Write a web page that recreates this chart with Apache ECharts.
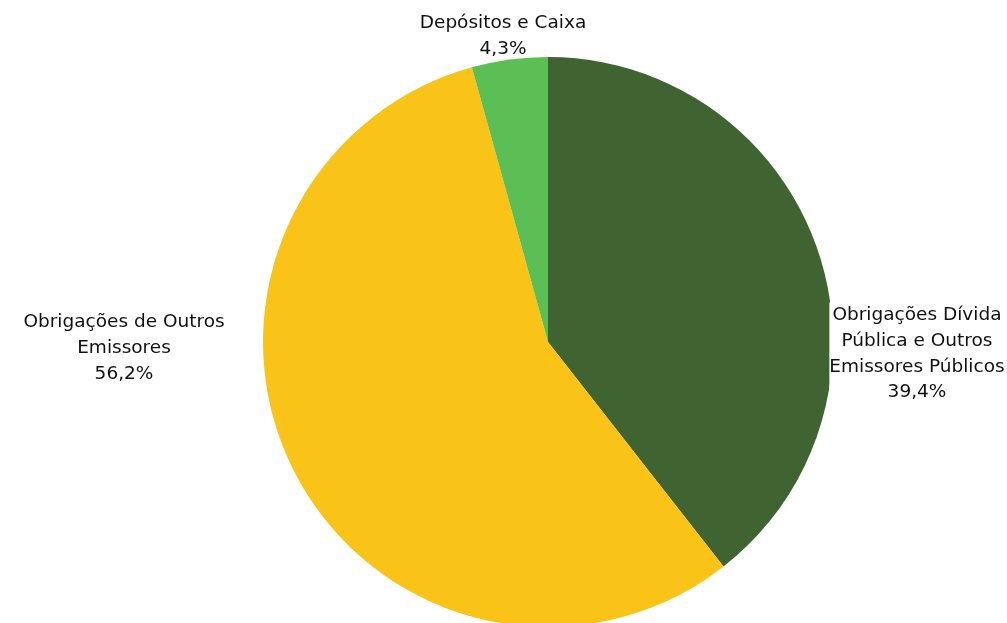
<!DOCTYPE html>
<html>
<head>
<meta charset="utf-8">
<script src="https://cdn.jsdelivr.net/npm/echarts@6/dist/echarts.min.js"></script>
<style>
  html, body { margin: 0; padding: 0; background: #ffffff; }
  #chart { width: 1007px; height: 623px; }
</style>
</head>
<body>
<div id="chart"></div>
<script>
// Portfolio composition, listed clockwise from twelve o'clock
const categories = [
  'Obrigações Dívida\nPública e Outros\nEmissores Públicos',
  'Obrigações de Outros\nEmissores',
  'Depósitos e Caixa'
];
const shares = [39.4, 56.2, 4.3];
const sliceColors = ['#3f6432', '#f9c417', '#5cbf55'];

// Centre of each slice's text block, and whether it sits on a white box
const labelSpots = [
  { x: 917, y: 354, boxed: true },
  { x: 124, y: 348, boxed: false },
  { x: 503, y: 36, boxed: false }
];

const chart = echarts.init(document.getElementById('chart'), null, { renderer: 'canvas' });

chart.setOption({
  backgroundColor: '#ffffff',
  animation: false,
  series: [{
    type: 'pie',
    center: [548, 342],
    radius: [0, 285],
    startAngle: 90,
    clockwise: true,
    avoidLabelOverlap: false,
    data: categories.map((name, i) => ({
      name: name,
      value: shares[i],
      itemStyle: { color: sliceColors[i] },
      label: labelSpots[i].boxed ? { backgroundColor: '#ffffff' } : {}
    })),
    itemStyle: { borderWidth: 0 },
    label: {
      show: true,
      position: 'outside',
      formatter: p => p.name + '\n' + p.value.toFixed(1).replace('.', ',') + '%',
      fontFamily: 'DejaVu Sans',
      fontSize: 18.5,
      lineHeight: 25.7,
      color: '#111111',
      align: 'center'
    },
    labelLine: { show: false },
    labelLayout: params => {
      const spot = labelSpots[params.dataIndex];
      return {
        x: spot.x,
        y: spot.y,
        align: 'center',
        verticalAlign: 'middle'
      };
    },
    emphasis: { disabled: true }
  }]
});
</script>
</body>
</html>
